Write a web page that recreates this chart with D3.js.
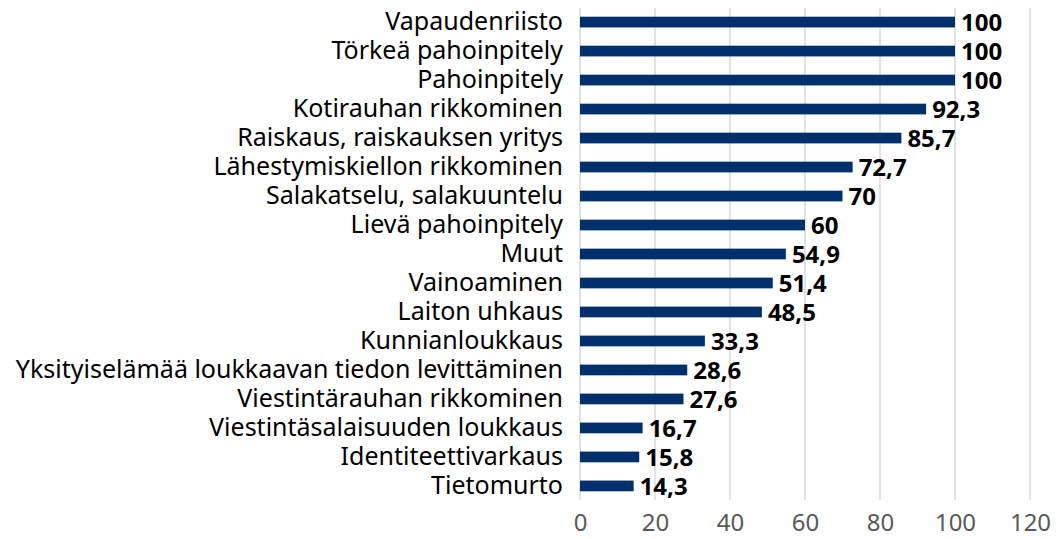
<!DOCTYPE html>
<html>
<head>
<meta charset="utf-8">
<script src="https://cdn.jsdelivr.net/npm/d3@7"></script>
<style>
  body { margin: 0; background: #fff; }
  text { font-family: "Noto Sans", "Open Sans", sans-serif; }
</style>
</head>
<body>
<svg id="chart" width="1061" height="539"></svg>
<script>
// rikoslajit ja osuudet (%)
var categories = [
    "Vapaudenriisto",
    "Törkeä pahoinpitely",
    "Pahoinpitely",
    "Kotirauhan rikkominen",
    "Raiskaus, raiskauksen yritys",
    "Lähestymiskiellon rikkominen",
    "Salakatselu, salakuuntelu",
    "Lievä pahoinpitely",
    "Muut",
    "Vainoaminen",
    "Laiton uhkaus",
    "Kunnianloukkaus",
    "Yksityiselämää loukkaavan tiedon levittäminen",
    "Viestintärauhan rikkominen",
    "Viestintäsalaisuuden loukkaus",
    "Identiteettivarkaus",
    "Tietomurto"
];
var values = [100, 100, 100, 92.3, 85.7, 72.7, 70, 60, 54.9, 51.4, 48.5, 33.3, 28.6, 27.6, 16.7, 15.8, 14.3];
var xTicks = [0, 20, 40, 60, 80, 100, 120];

var svg = d3.select("#chart");

var x = d3.scaleLinear().domain([0, 120]).range([580, 1030]);
var y = d3.scaleBand().domain(categories).range([8, 500]).paddingInner(0.63).paddingOuter(0.3);

var fmt = function(v) { return String(v).replace(".", ","); };

// pystysuorat apuviivat
svg.append("g").selectAll("line")
    .data(xTicks)
    .enter().append("line")
    .attr("x1", function(d) { return x(d); })
    .attr("x2", function(d) { return x(d); })
    .attr("y1", 8)
    .attr("y2", 500)
    .attr("stroke", "#d9d9d9")
    .attr("stroke-width", 1.5);

// x-akseli
var xAxis = svg.append("g")
    .attr("transform", "translate(0,500)")
    .call(d3.axisBottom(x).tickValues(xTicks).tickSize(0).tickPadding(14));
xAxis.select(".domain").remove();
xAxis.selectAll("text")
    .attr("font-size", 24)
    .attr("fill", "#595959")
    .style("font-family", "'Noto Sans', sans-serif");

// y-akseli
var yAxis = svg.append("g")
    .attr("transform", "translate(580,0)")
    .call(d3.axisLeft(y).tickSize(0).tickPadding(17));
yAxis.select(".domain").remove();
yAxis.selectAll("text")
    .attr("font-size", 25)
    .attr("fill", "#000")
    .style("font-family", "'Noto Sans', sans-serif");

// palkit
svg.append("g").selectAll("rect")
    .data(values)
    .enter().append("rect")
    .attr("x", x(0))
    .attr("y", function(d, i) { return y(categories[i]); })
    .attr("width", function(d) { return x(d) - x(0); })
    .attr("height", y.bandwidth())
    .attr("fill", "#00306b");

// arvot
svg.append("g").selectAll("text")
    .data(values)
    .enter().append("text")
    .attr("x", function(d) { return x(d) + 6; })
    .attr("y", function(d, i) { return y(categories[i]) + y.bandwidth() / 2; })
    .attr("dy", "0.36em")
    .attr("font-size", 24)
    .attr("font-weight", "bold")
    .attr("fill", "#000")
    .text(fmt);
</script>
</body>
</html>
